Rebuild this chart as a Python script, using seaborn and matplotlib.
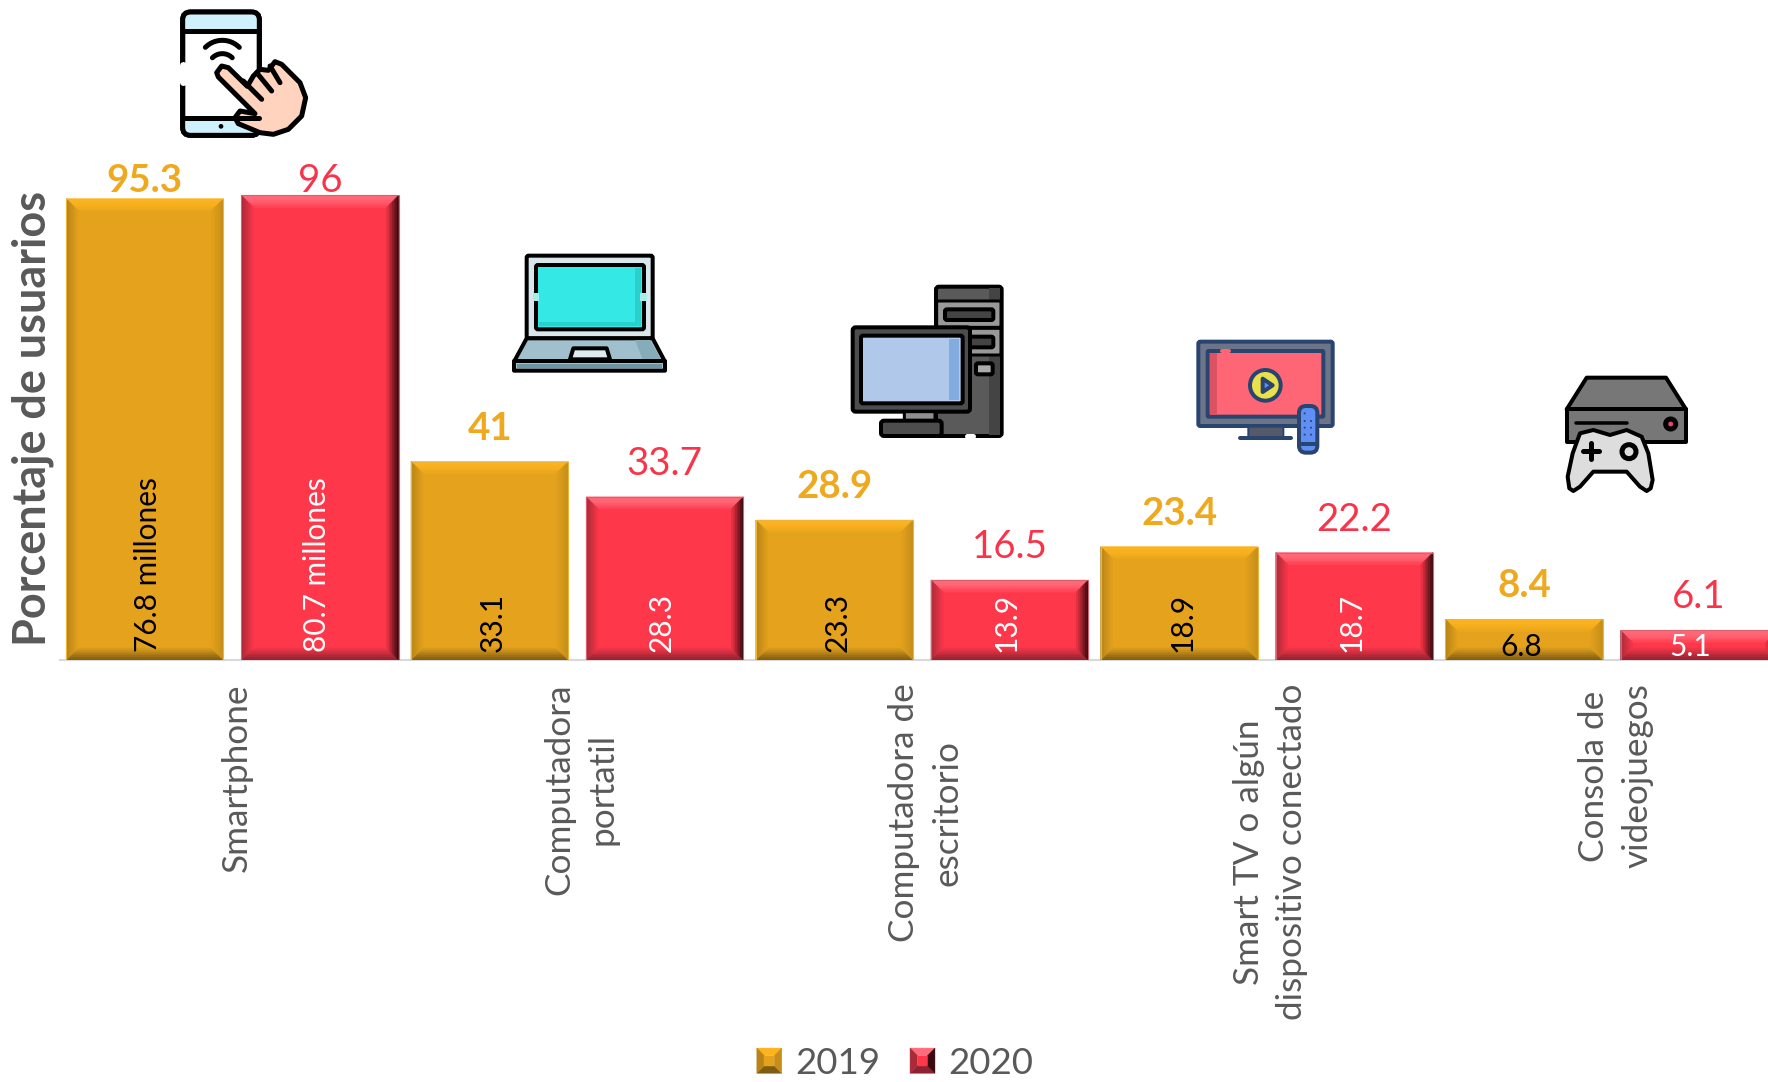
import numpy as np
import pandas as pd
import matplotlib
matplotlib.use("Agg")
import matplotlib.pyplot as plt
import matplotlib.patches as mpatches
from matplotlib.colors import to_rgb
from matplotlib.legend_handler import HandlerBase
from matplotlib.transforms import ScaledTranslation
import seaborn as sns

W, H = 1768, 1082

# Data
devices = ["Smartphone", "Computadora\nportatil", "Computadora de\nescritorio",
           "Smart TV o algún\ndispositivo conectado", "Consola de\nvideojuegos"]
years = ["2019", "2020"]
pct_2019 = [95.3, 41, 28.9, 23.4, 8.4]
pct_2020 = [96, 33.7, 16.5, 22.2, 6.1]
users_2019 = ["76.8 millones", "33.1", "23.3", "18.9", "6.8"]
users_2020 = ["80.7 millones", "28.3", "13.9", "18.7", "5.1"]

GRAY = "#595959"
GOLD = dict(base="#E5A31D", top="#FDB31F", bottom="#7F5C12", left="#B98416", right="#C68E19", edge="#EDB43A")
RED = dict(base="#FF374A", top="#FF6B7B", bottom="#8E2230", left="#A92A38", right="#3A0A10", edge="#D9606C")
GOLD_TEXT = "#EFA91F"
RED_TEXT = "#F9344A"

sns.set_style("white")
plt.rcParams["font.family"] = ["Lato", "DejaVu Sans"]

# one category is 344.8 px wide, one percent is 4.84 px high
CAT_PX = 344.8
PCT_PX = 4.84
BASE_Y = 660

fig = plt.figure(figsize=(W / 100, H / 100), dpi=100)
ax = fig.add_axes([60 / W, 1 - BASE_Y / H, 5 * CAT_PX / W, BASE_Y / H])

df = pd.DataFrame({
    "device": devices * 2,
    "year": [years[0]] * 5 + [years[1]] * 5,
    "pct": pct_2019 + pct_2020,
})
sns.barplot(data=df, x="device", y="pct", hue="year", palette=[GOLD["base"], RED["base"]],
            width=1.016, gap=0.103, saturation=1, legend=False, ax=ax)
ax.set_xlim(-0.5, 4.5)
ax.set_ylim(0, BASE_Y / PCT_PX)


def mix(c1, c2, t):
    a, b = np.array(to_rgb(c1)), np.array(to_rgb(c2))
    return tuple(a + (b - a) * t)


def add_bevel(bar, style, size=12, steps=7):
    px, py = 1 / CAT_PX, 1 / PCT_PX
    x0, x1 = bar.get_x(), bar.get_x() + bar.get_width()
    y0, y1 = 0, bar.get_height()
    size = min(size, bar.get_height() * PCT_PX / 2 - 1)
    for k in range(steps):
        a = size * k / steps
        b = size * (k + 1) / steps
        t = k / steps
        sides = {
            "top": [(x0 + a * px, y1 - a * py), (x1 - a * px, y1 - a * py), (x1 - b * px, y1 - b * py), (x0 + b * px, y1 - b * py)],
            "bottom": [(x0 + a * px, y0 + a * py), (x1 - a * px, y0 + a * py), (x1 - b * px, y0 + b * py), (x0 + b * px, y0 + b * py)],
            "left": [(x0 + a * px, y0 + a * py), (x0 + a * px, y1 - a * py), (x0 + b * px, y1 - b * py), (x0 + b * px, y0 + b * py)],
            "right": [(x1 - a * px, y0 + a * py), (x1 - a * px, y1 - a * py), (x1 - b * px, y1 - b * py), (x1 - b * px, y0 + b * py)],
        }
        for side, pts in sides.items():
            # the top stays flat, the others fade to the face colour
            tt = t ** 2 if side == "top" else t
            c = mix(style[side], style["base"], tt)
            ax.add_patch(mpatches.Polygon(pts, closed=True, fc=c, ec=c, lw=0.4, zorder=3))
    ax.add_patch(mpatches.Rectangle((x0, y0), x1 - x0, y1 - y0, fc="none", ec=style["edge"], lw=0.8, zorder=3.5))


styles = [GOLD, RED]
top_values = [pct_2019, pct_2020]
inner_labels = [users_2019, users_2020]
top_colors = [GOLD_TEXT, RED_TEXT]
top_weights = ["bold", "normal"]
inner_colors = ["black", "white"]
inner_shift = [3, -3]

for i, cont in enumerate(ax.containers):
    for j, bar in enumerate(cont):
        add_bevel(bar, styles[i])
        xc = bar.get_x() + bar.get_width() / 2
        # the smartphone labels sit close to the bars, the others float higher
        gap = 22 if j > 0 else (7 if i == 0 else 3)
        ax.annotate(str(top_values[i][j]), (xc, bar.get_height()), xytext=(0, gap * 0.72),
                    textcoords="offset points", ha="center", va="baseline", fontsize=27.7,
                    color=top_colors[i], fontweight=top_weights[i], zorder=5)
        if j < 4:
            ax.annotate(inner_labels[i][j], (xc, 0), xytext=(inner_shift[i] * 0.72, 8 * 0.72),
                        textcoords="offset points", ha="center", va="bottom", rotation=90,
                        fontsize=21.5, color=inner_colors[i], zorder=5)
        else:
            ax.annotate(inner_labels[i][j], (xc, 0), xytext=((inner_shift[i] - 6) * 0.72, 13 * 0.72),
                        textcoords="offset points", ha="center", va="center",
                        fontsize=21.5, color=inner_colors[i], zorder=5)

ax.set_xlabel("")
ax.set_yticks([])
ax.set_ylabel("Porcentaje de usuarios", fontsize=32.4, fontweight="bold", color=GRAY)
ax.yaxis.set_label_coords((54 - 60) / (5 * CAT_PX), (BASE_Y - 418) / BASE_Y)
ax.set_xticks(range(5))
ax.set_xticklabels(devices, rotation=90, fontsize=25.3, color=GRAY, ma="center", linespacing=1.43)
ax.tick_params(axis="x", length=0, pad=17)
for tick_label in ax.get_xticklabels():
    tick_label.set_transform(tick_label.get_transform() + ScaledTranslation(0.04, 0, fig.dpi_scale_trans))
sns.despine(ax=ax, left=True, top=True, right=True)
ax.spines["bottom"].set_color("#D9D9D9")
ax.spines["bottom"].set_linewidth(1.5)
ax.patch.set_alpha(0)


class BevelHandler(HandlerBase):
    def __init__(self, style):
        super().__init__()
        self.style = style

    def create_artists(self, legend, orig_handle, xdescent, ydescent, width, height, fontsize, trans):
        s = self.style
        x0, y0 = -xdescent, -ydescent
        x1, y1 = x0 + width, y0 + height
        dx, dy = width * 0.3, height * 0.3
        cx0, cx1, cy0, cy1 = x0 + dx, x1 - dx, y0 + dy, y1 - dy
        parts = [
            ([(x0, y1), (x1, y1), (cx1, cy1), (cx0, cy1)], s["top"]),
            ([(x0, y0), (x1, y0), (cx1, cy0), (cx0, cy0)], s["bottom"]),
            ([(x0, y0), (x0, y1), (cx0, cy1), (cx0, cy0)], s["left"]),
            ([(x1, y0), (x1, y1), (cx1, cy1), (cx1, cy0)], s["right"]),
            ([(cx0, cy0), (cx1, cy0), (cx1, cy1), (cx0, cy1)], s["base"]),
        ]
        return [mpatches.Polygon(p, closed=True, fc=c, ec=c, lw=0.3, transform=trans) for p, c in parts]


handles = [mpatches.Patch(color=GOLD["base"]), mpatches.Patch(color=RED["base"])]
ax.legend(handles, years, handler_map={handles[0]: BevelHandler(GOLD), handles[1]: BevelHandler(RED)},
          loc="center", bbox_to_anchor=(895 / W, 1 - 1063 / H), bbox_transform=fig.transFigure,
          ncol=2, frameon=False, fontsize=26.4, labelcolor=GRAY, handlelength=0.68, handleheight=0.68,
          handletextpad=0.36, columnspacing=0.82, borderpad=0, borderaxespad=0)

# Icons, drawn in image pixels on a sheet over the chart
sheet = fig.add_axes([0, 0, 1, 1], zorder=10)
sheet.set_xlim(0, W)
sheet.set_ylim(H, 0)
sheet.axis("off")


def at(ox, oy, pts):
    return [(ox + x / 3, oy + y / 3) for x, y in pts]


def poly(ox, oy, pts, fc, ec="black", lw=4, closed=True):
    sheet.add_patch(mpatches.Polygon(at(ox, oy, pts), closed=closed, fc=fc, ec=ec, lw=lw * 0.72, joinstyle="round", capstyle="round"))


def rrect(ox, oy, x0, y0, x1, y1, fc, ec="black", lw=4, r=4):
    (ax0, ay0), (ax1, ay1) = at(ox, oy, [(x0, y0), (x1, y1)])
    sheet.add_patch(mpatches.FancyBboxPatch((ax0, ay0), ax1 - ax0, ay1 - ay0, boxstyle=f"round,pad=0,rounding_size={r}",
                                            fc=fc, ec=ec, lw=lw * 0.72, mutation_aspect=1))


def line(ox, oy, pts, color="black", lw=4):
    xy = np.array(at(ox, oy, pts))
    sheet.plot(xy[:, 0], xy[:, 1], color=color, lw=lw * 0.72, solid_capstyle="round", solid_joinstyle="round")


def circle(ox, oy, x, y, r, fc, ec="black", lw=4):
    (cx, cy), = at(ox, oy, [(x, y)])
    sheet.add_patch(mpatches.Circle((cx, cy), r / 3, fc=fc, ec=ec, lw=lw * 0.72))


def arc(ox, oy, x, y, rx, t0, t1, lw=4):
    t = np.radians(np.linspace(t0, t1, 24))
    line(ox, oy, list(zip(x + rx * np.cos(t), y - rx * np.sin(t))), lw=lw)


# smartphone
o = (160, 1)
rrect(*o, 68, 33, 298, 403, "white", lw=5, r=8)
rrect(*o, 70, 35, 296, 88, "#CFF1FB", ec="none", lw=0, r=6)
rrect(*o, 70, 352, 296, 401, "#CFF1FB", ec="none", lw=0, r=6)
rrect(*o, 68, 33, 298, 403, "none", lw=5, r=8)
line(*o, [(68, 90), (298, 90)], lw=5)
line(*o, [(68, 352), (298, 352)], lw=5)
line(*o, [(68, 192), (68, 242)], color="white", lw=7)
circle(*o, 71, 218, 3, "black", lw=2)
circle(*o, 183, 376, 4, "black", lw=2)
arc(*o, 187, 190, 72, 45, 135, lw=5)
arc(*o, 187, 200, 42, 45, 135, lw=5)
poly(*o, [(170, 215), (185, 195), (205, 200), (262, 256), (280, 225), (300, 205), (325, 208), (345, 182), (365, 190),
          (420, 245), (437, 290), (425, 345), (385, 385), (340, 400), (300, 395), (235, 368), (225, 350), (240, 330),
          (285, 338), (175, 228)], "#FFD3BD", lw=5)
line(*o, [(250, 240), (305, 295)], lw=5)
line(*o, [(290, 215), (335, 270)], lw=5)
line(*o, [(330, 195), (360, 245)], lw=5)

# laptop
o = (500, 240)
rrect(*o, 80, 47, 458, 295, "#D9E6EB", r=2)
rrect(*o, 108, 75, 432, 268, "#34E8E5", r=2)
poly(*o, [(118, 245), (420, 245), (420, 258), (118, 258)], "#2AD0CC", ec="none", lw=0)
poly(*o, [(405, 85), (422, 85), (422, 258), (405, 258)], "#2AD0CC", ec="none", lw=0)
poly(*o, [(100, 160), (118, 160), (118, 182), (100, 182)], "#A8EDEE", ec="none", lw=0)
poly(*o, [(420, 160), (440, 160), (440, 182), (420, 182)], "#A8EDEE", ec="none", lw=0)
poly(*o, [(80, 295), (458, 295), (495, 365), (495, 392), (42, 392), (42, 365)], "#9FC0CC")
poly(*o, [(405, 300), (450, 300), (482, 358), (428, 358)], "#86ACBA", ec="none", lw=0)
poly(*o, [(210, 358), (220, 325), (320, 325), (330, 358)], "#DFE9EE")
line(*o, [(42, 362), (495, 362)])
poly(*o, [(52, 371), (486, 371), (486, 383), (52, 383)], "#6E95A3", ec="none", lw=0)

# desktop
rrect(*o, 1308, 140, 1505, 588, "#5A5A5A", r=3)
poly(*o, [(1468, 145), (1500, 145), (1500, 584), (1468, 584)], "#444444", ec="none", lw=0)
rrect(*o, 1310, 183, 1503, 262, "#999999", lw=3, r=1)
rrect(*o, 1310, 265, 1503, 345, "#999999", lw=3, r=1)
rrect(*o, 1335, 208, 1480, 240, "#444444", r=2)
rrect(*o, 1335, 290, 1480, 322, "#444444", r=2)
rrect(*o, 1428, 370, 1478, 403, "#AAAAAA", r=2)
rrect(*o, 1058, 262, 1410, 515, "#4D4D4D", r=3)
rrect(*o, 1083, 287, 1388, 490, "#B0C9EA", r=2)
poly(*o, [(1347, 296), (1377, 296), (1377, 481), (1347, 481)], "#82ABE0", ec="none", lw=0)
rrect(*o, 1213, 515, 1305, 545, "#909090", lw=3, r=1)
rrect(*o, 1143, 542, 1325, 588, "#4D4D4D", r=3)
line(*o, [(1402, 588), (1418, 588)], color="white", lw=5)

# smart tv
o = (1180, 330)
NAVY = "#2A4470"
rrect(*o, 55, 35, 458, 288, "#6C7587", ec=NAVY, r=2)
rrect(*o, 83, 63, 430, 260, "#FF6675", ec=NAVY, r=1)
poly(*o, [(90, 70), (110, 70), (110, 254), (90, 254)], "#DB5262", ec="none", lw=0)
line(*o, [(125, 64), (147, 64)], color="#FF6675", lw=4)
rrect(*o, 205, 290, 310, 322, "#555A6B", ec=NAVY, lw=2, r=1)
line(*o, [(180, 324), (332, 324)], color=NAVY)
circle(*o, 256, 166, 46, "#EAE04B", ec=NAVY)
poly(*o, [(248, 146), (278, 166), (248, 186)], "#5F8FF5", ec=NAVY)
rrect(*o, 357, 228, 412, 368, "#5F8FF5", ec=NAVY, r=7)
for dot_y in [250, 273, 293, 314]:
    for dot_x in [374, 393]:
        if dot_y > 250 or dot_x == 374:
            circle(*o, dot_x, dot_y, 3, NAVY, ec="none", lw=0)
line(*o, [(365, 342), (404, 342)], color=NAVY)

# console
o = (1180, 330)
poly(*o, [(1220, 143), (1458, 143), (1518, 238), (1160, 238)], "#777777")
poly(*o, [(1160, 238), (1518, 238), (1518, 335), (1160, 335)], "#777777")
line(*o, [(1188, 280), (1340, 280)], lw=3.5)
circle(*o, 1472, 282, 15, "#E8407A", lw=5)
poly(*o, [(1200, 310), (1240, 300), (1290, 315), (1340, 300), (1385, 320), (1405, 370), (1418, 450), (1412, 475), (1400, 483),
          (1380, 470), (1340, 425), (1240, 425), (1200, 470), (1180, 483), (1168, 475), (1163, 440), (1178, 370)], "#DDDDDD")
line(*o, [(1233, 340), (1233, 386)], lw=5)
line(*o, [(1210, 363), (1256, 363)], lw=5)
circle(*o, 1347, 365, 21, "#DDDDDD", lw=5)

fig.savefig("out.png", dpi=100)
